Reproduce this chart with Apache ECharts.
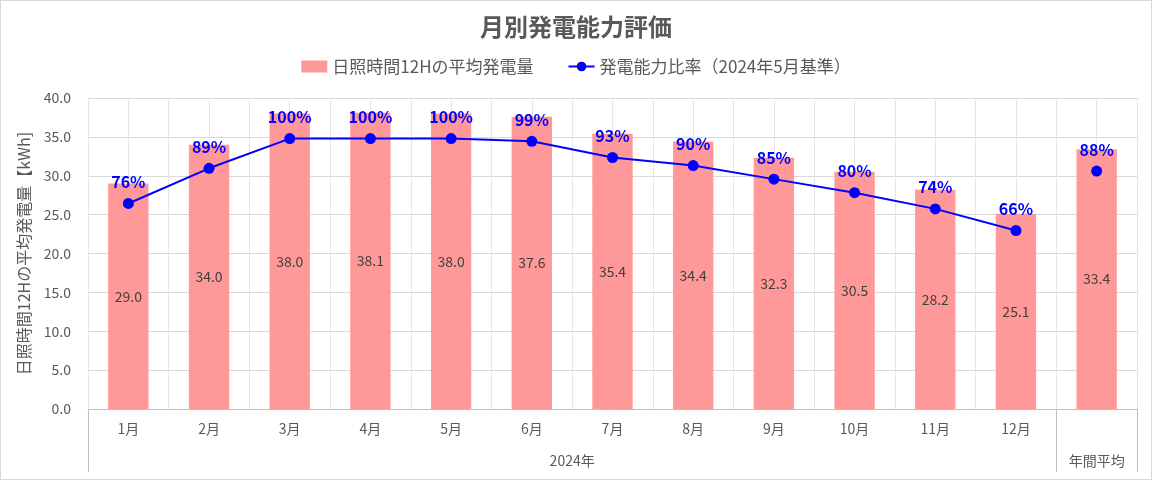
<!DOCTYPE html>
<html>
<head>
<meta charset="utf-8">
<script src="https://cdn.jsdelivr.net/npm/echarts@6/dist/echarts.min.js"></script>
<style>
  html, body { margin: 0; padding: 0; background: #fff; }
  #main { width: 1150px; height: 478px; border: 1px solid #d9d9d9; }
</style>
</head>
<body>
<div id="main"></div>
<script>
// 月ラベル（13番目は年間平均なので空）
const months = ['1月', '2月', '3月', '4月', '5月', '6月', '7月', '8月', '9月', '10月', '11月', '12月', '']
// 日照時間12Hの平均発電量 [kWh]
const energy = [29.0, 34.0, 38.0, 38.1, 38.0, 37.6, 35.4, 34.4, 32.3, 30.5, 28.2, 25.1, 33.4]
// 発電能力比率 (%) 1〜12月
const ratioMonthly = [76, 89, 100, 100, 100, 99, 93, 90, 85, 80, 74, 66, null]
// 年間平均の比率
const ratioAnnual = [null, null, null, null, null, null, null, null, null, null, null, null, 88]
// 下段ラベル
const groupLabels = {6: '2024年', 12.5: '年間平均'}

const font = '"Noto Sans CJK JP", "Noto Sans", sans-serif'
const gray = '#595959'
const blue = '#0000ff'

const chart = echarts.init(document.getElementById('main'))

const pctLabel = {
    show: true,
    position: 'top',
    distance: 8,
    color: blue,
    fontWeight: 'bold',
    fontSize: 16,
    fontFamily: font,
    formatter: p => p.value + '%'
}

const option = {
    textStyle: { fontFamily: font },
    title: {
        text: '月別発電能力評価',
        left: 'center',
        top: 9,
        textStyle: { fontSize: 24, fontWeight: 'bold', color: gray, fontFamily: font }
    },
    legend: {
        top: 52,
        left: 'center',
        itemGap: 34,
        itemWidth: 26,
        itemHeight: 12,
        textStyle: { fontSize: 17, color: gray, fontFamily: font },
        data: [
            { name: '日照時間12Hの平均発電量', icon: 'rect', itemStyle: { color: '#ff9999' } },
            { name: '発電能力比率（2024年5月基準）' }
        ]
    },
    grid: { left: 87, right: 14, top: 97, bottom: 70 },
    xAxis: [
        {
            type: 'category',
            data: months,
            boundaryGap: true,
            axisLine: { lineStyle: { color: '#bfbfbf' } },
            axisTick: { show: false },
            axisLabel: { color: gray, fontSize: 14, margin: 13, fontFamily: font },
            splitLine: { show: true, interval: 0, lineStyle: { color: '#d9d9d9' } }
        },
        {
            type: 'value',
            min: 0,
            max: 13,
            position: 'bottom',
            axisLine: { show: false },
            axisTick: {
                show: true,
                customValues: [0, 12, 13],
                length: 63,
                lineStyle: { color: '#bfbfbf' }
            },
            axisLabel: {
                show: true,
                customValues: [6, 12.5],
                margin: 45,
                color: gray,
                fontSize: 14,
                fontFamily: font,
                formatter: v => groupLabels[v] || ''
            },
            splitLine: { show: false }
        },
        {
            type: 'value',
            min: 0,
            max: 13,
            interval: 0.5,
            position: 'bottom',
            axisLine: { show: false },
            axisTick: { show: false },
            axisLabel: { show: false },
            splitLine: { show: true, lineStyle: { color: '#e6e6e6' } }
        }
    ],
    yAxis: [
        {
            type: 'value',
            min: 0,
            max: 40,
            interval: 5,
            name: '日照時間12Hの平均発電量【kWh]',
            nameLocation: 'middle',
            nameGap: 56,
            nameTextStyle: { color: gray, fontSize: 16, fontFamily: font },
            axisLine: { show: false },
            axisTick: { show: false },
            axisLabel: { color: gray, fontSize: 14, margin: 17, fontFamily: font, formatter: v => v.toFixed(1) },
            splitLine: { lineStyle: { color: '#d9d9d9' } }
        },
        {
            type: 'value',
            min: 0,
            max: 115,
            show: false,
            splitLine: { show: false }
        }
    ],
    series: [
        {
            name: '日照時間12Hの平均発電量',
            type: 'bar',
            barWidth: '50%',
            itemStyle: { color: '#ff9999' },
            label: {
                show: true,
                position: 'inside',
                color: '#404040',
                fontSize: 14,
                fontFamily: font,
                formatter: p => p.value.toFixed(1)
            },
            data: energy,
            z: 2
        },
        {
            name: '発電能力比率（2024年5月基準）',
            type: 'line',
            yAxisIndex: 1,
            symbol: 'circle',
            symbolSize: 11,
            lineStyle: { color: blue, width: 2 },
            itemStyle: { color: blue },
            label: pctLabel,
            connectNulls: false,
            data: ratioMonthly,
            z: 3
        },
        {
            name: '発電能力比率（2024年5月基準）',
            type: 'line',
            yAxisIndex: 1,
            symbol: 'circle',
            symbolSize: 11,
            lineStyle: { color: blue, width: 2 },
            itemStyle: { color: blue },
            label: pctLabel,
            data: ratioAnnual,
            z: 3
        }
    ],
    animation: false
}

chart.setOption(option)
</script>
</body>
</html>
